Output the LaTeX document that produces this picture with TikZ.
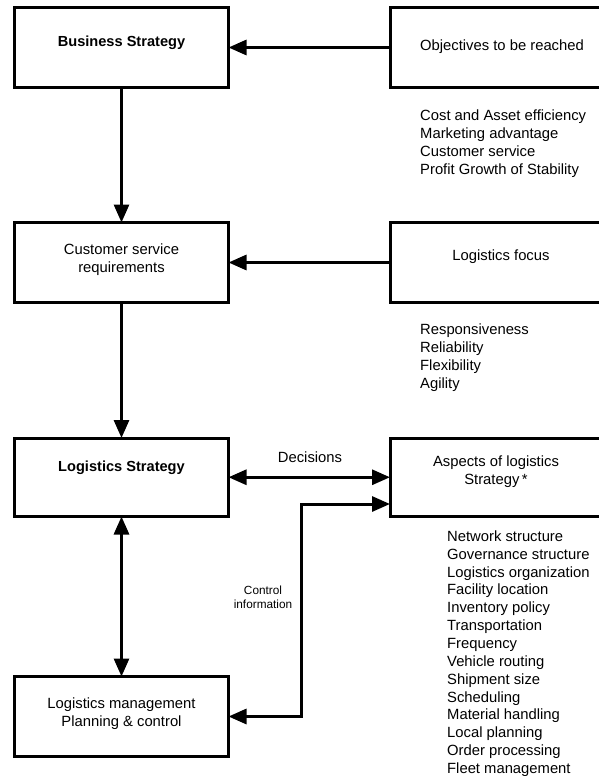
\documentclass[tikz,border=0pt]{standalone}
\usepackage{fontspec}
\setmainfont{Liberation Sans}
\usetikzlibrary{arrows.meta}
\begin{document}
\begin{tikzpicture}[x=1pt,y=-1pt,
  box/.style={draw,line width=3pt,inner sep=0pt,outer sep=0pt,anchor=north west},
  txt/.style={inner sep=0pt,align=center,font=\fontsize{14.8}{18}\selectfont},
  list/.style={inner sep=0pt,align=left,anchor=north west,font=\fontsize{14.8}{18}\selectfont},
  conn/.style={line width=3pt,line join=miter},
  >={Triangle[length=18pt,width=15pt]}]
\path[use as bounding box,clip] (0,0) rectangle (599,776);

% left column of boxes
\node[box,minimum width=214pt,minimum height=80pt]   (bs)  at (14.5,7.5)   {};
\node[box,minimum width=214pt,minimum height=80pt]   (csr) at (14.5,222.5) {};
\node[box,minimum width=214pt,minimum height=78.5pt] (ls)  at (14.5,438)   {};
\node[box,minimum width=214pt,minimum height=80pt]   (lm)  at (14.5,676.5) {};

% right column of boxes (running off the right edge)
\node[box,minimum width=225pt,minimum height=80pt]   (obj) at (390,7.5)   {};
\node[box,minimum width=225pt,minimum height=80pt]   (lf)  at (390,222.5) {};
\node[box,minimum width=225pt,minimum height=78.5pt] (asp) at (390,438)   {};

% box labels
\node[txt,font=\fontsize{14.6}{18}\selectfont\bfseries] (bst) at (121.5,43) {Business Strategy};
\node[txt] (csrt) at (121.5,260) {Customer service\\requirements};
\node[txt,font=\fontsize{14.6}{18}\selectfont\bfseries] (lst) at (121.5,468) {Logistics Strategy};
\node[txt] (lmt) at (121.5,714) {Logistics management\\Planning \& control};
\node[txt] (objt) at (502,47) {Objectives to be reached};
\node[txt] (lft) at (501,257) {Logistics focus};
\node[txt] (aspt) at (496,472) {Aspects of logistics\\Strategy\thinspace*};

% lists
\node[list] (l1) at (420,110) {Cost and Asset efficiency\\Marketing advantage\\Customer service\\Profit Growth of Stability};
\node[list] (l2) at (420,324) {Responsiveness\\Reliability\\Flexibility\\Agility};
\node[list,font=\fontsize{14.8}{17.85}\selectfont] (l3) at (447,530.5) {Network structure\\Governance structure\\Logistics organization\\Facility location\\Inventory policy\\Transportation\\Frequency\\Vehicle routing\\Shipment size\\Scheduling\\Material handling\\Local planning\\Order processing\\Fleet management};

% connector labels
\node[txt] (dec) at (310,457) {Decisions};
\node[txt,font=\fontsize{11.8}{14}\selectfont] (ci) at (263,597) {Control\\information};

% connectors
\draw[conn,->] (obj.west) -- (bs.east);
\draw[conn,->] (lf.west) -- (csr.east);
\draw[conn,->] (bs.south) -- (csr.north);
\draw[conn,->] (csr.south) -- (ls.north);
\draw[conn,<->] (ls.east) -- (asp.west);
\draw[conn,<->] (ls.south) -- (lm.north);
\coordinate (bend) at (301,504);
\draw[conn,<->] (lm.east) -| (bend) -- (bend -| asp.west);
\end{tikzpicture}
\end{document}
